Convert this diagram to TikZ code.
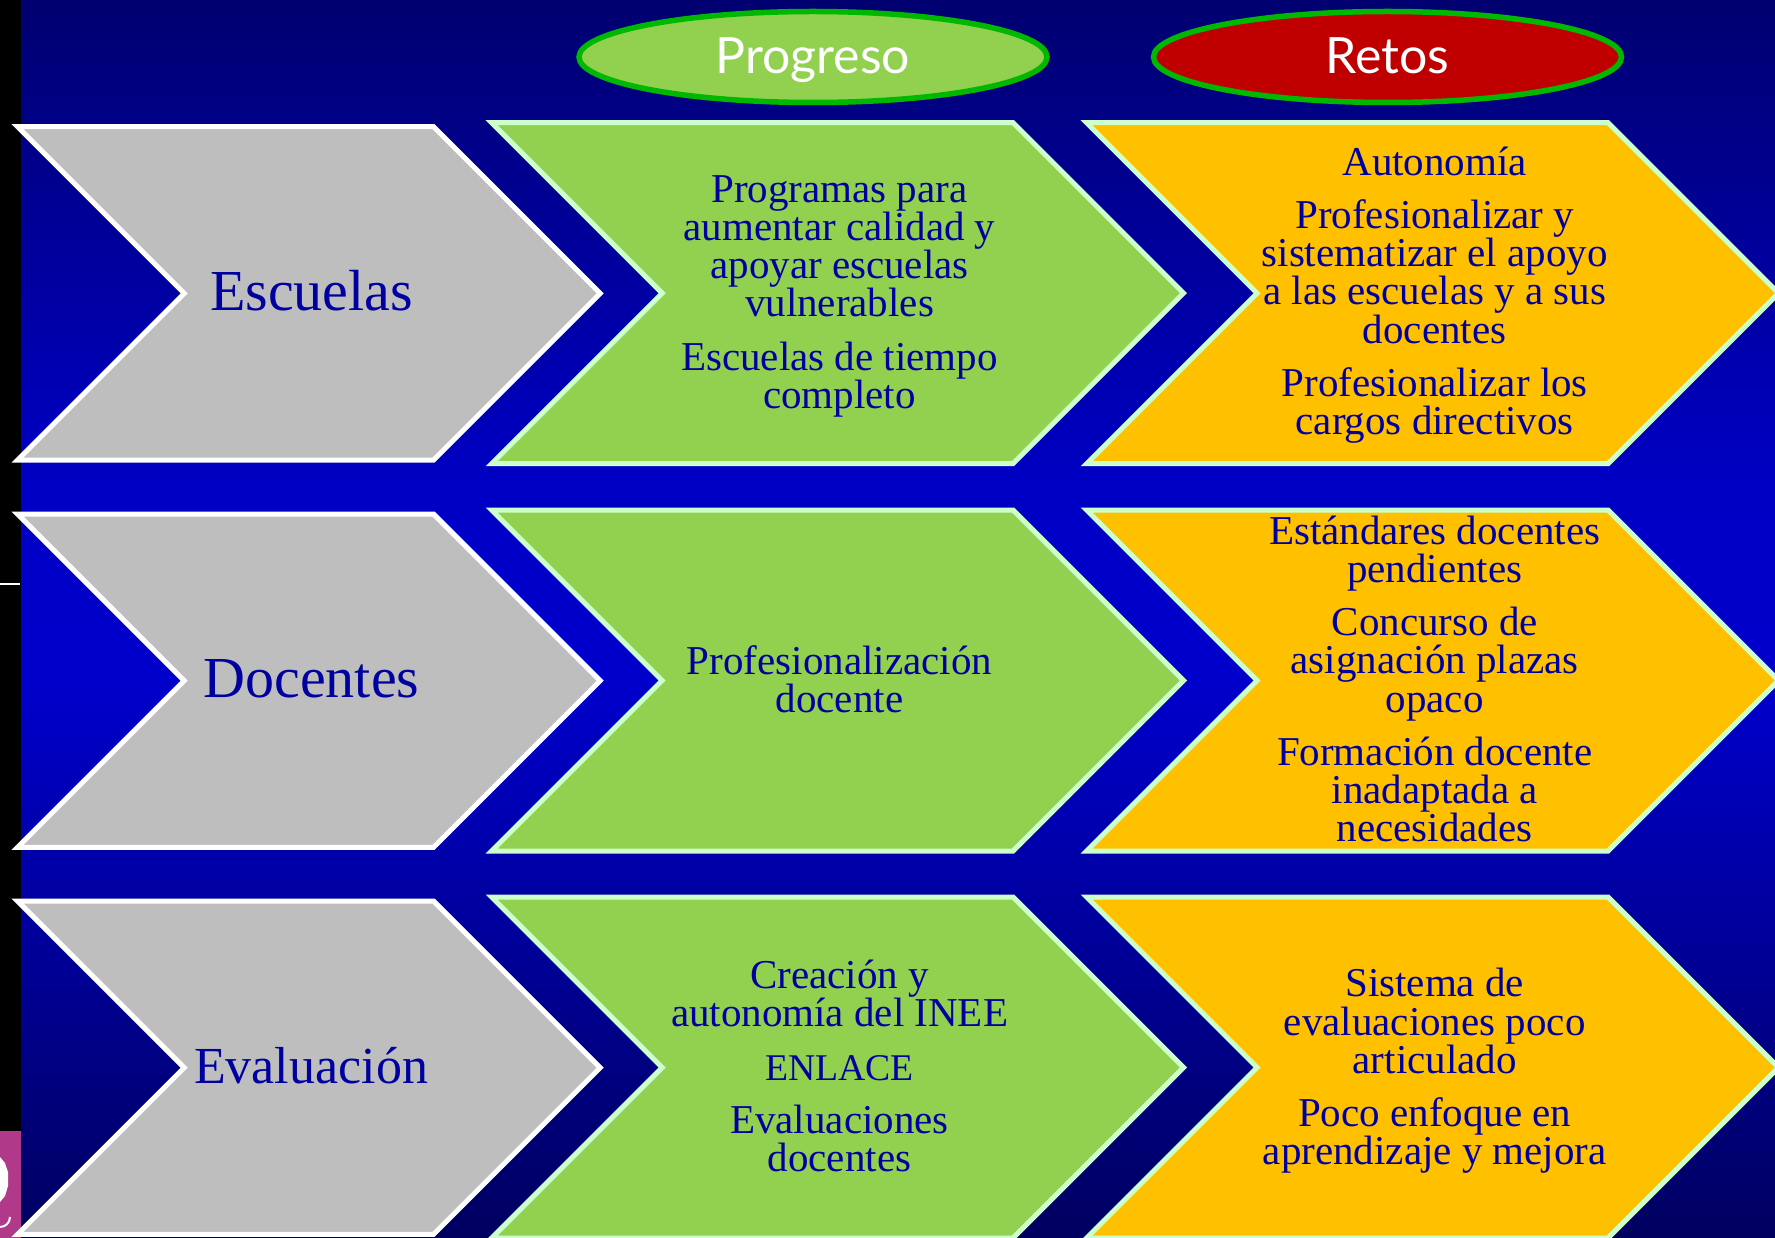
\documentclass[tikz,border=0pt]{standalone}
\usepackage{fontspec}
\usetikzlibrary{shapes.geometric}
\setmainfont{Liberation Serif}
\newfontfamily\headfont{Lato}
\definecolor{txtblue}{HTML}{0000A0}
\definecolor{grayfill}{HTML}{BEBEBE}
\definecolor{greenfill}{HTML}{92D050}
\definecolor{orangefill}{HTML}{FFC000}
\definecolor{edgepale}{HTML}{CCFFCC}
\definecolor{ringgreen}{HTML}{00B800}
\definecolor{redfill}{HTML}{C00000}
\definecolor{magentabar}{HTML}{B0398A}
\pgfdeclareverticalshading{bgshade}{100bp}{%
  rgb(0bp)=(0,0,0.376);%
  rgb(25bp)=(0,0,0.376);%
  rgb(47.5bp)=(0,0,0.8);%
  rgb(55.5bp)=(0,0,0.769);%
  rgb(75bp)=(0,0,0.439);%
  rgb(100bp)=(0,0,0.439)}
\tikzset{
  chevgray/.style={draw=white,fill=grayfill,line width=5pt,miter limit=10},
  chevgreen/.style={draw=edgepale,fill=greenfill,line width=5pt,miter limit=10},
  chevorange/.style={draw=edgepale,fill=orangefill,line width=5pt,miter limit=10},
  rowlabel/.style={text=txtblue,font=\fontsize{58}{60}\selectfont,inner sep=0pt},
  body/.style={text=txtblue,font=\fontsize{41}{38.2}\selectfont,align=center,inner sep=0pt},
  ovalhead/.style={ellipse,draw=ringgreen,line width=5.5pt,minimum width=468pt,minimum height=91pt,inner sep=0pt,text=white,text height=33pt,text depth=0pt,font=\headfont\fontsize{50}{52}\selectfont},
}
% #1 style, #2 left x of centreline, #3 top y, #4 half height, #5 body length
\newcommand{\chevshape}[5]{%
  \draw[#1] (#2,#3) -- ++(#5,0) -- ++(#4,#4) -- ++(-#4,#4) -- ++(-#5,0) -- ++(#4,-#4) -- cycle;
}
\newcommand{\capsmall}[1]{{\fontsize{37.7}{38.2}\selectfont #1}}
\begin{document}
\begin{tikzpicture}[x=1pt,y=-1pt]
\useasboundingbox (0,0) rectangle (1775,1238);
\clip (0,0) rectangle (1775,1238);
\shade[shading=bgshade] (0,0) rectangle (1775,1238);
\fill[black] (0,0) rectangle (21,1238);
\fill[magentabar] (0,1131) rectangle (21,1238);
\fill[white] (0,1157) -- (5,1163) -- (8,1172) -- (8,1186) -- (5,1196) -- (0,1202) -- cycle;
\draw[white,line width=2pt] (0,1227) arc[start angle=90,end angle=0,radius=10];
\draw[white,line width=2.5pt] (0,584) -- (20,584);

\foreach \ytop/\hh in {126.7/166.7,514/166.7,901/166.7}{
  \chevshape{chevgray}{17.5}{\ytop}{\hh}{416}
}
\foreach \ytop/\hh in {122.7/170.5,510/170.5,897/170.5}{
  \chevshape{chevgreen}{491.7}{\ytop}{\hh}{521.3}
  \chevshape{chevorange}{1086.6}{\ytop}{\hh}{521.4}
}

\node[ovalhead,fill=greenfill] (progreso) at (813,57) {Progreso};
\node[ovalhead,fill=redfill] (retos) at (1387.5,57) {Retos};

\node[rowlabel] (escuelas) at (311.5,291) {Escuelas};
\node[rowlabel] (docentes) at (311.5,679) {Docentes};
\node[rowlabel,font=\fontsize{52}{60}\selectfont] (evaluacion) at (311,1066) {Evaluación};

\node[body] (g1) at (839.5,296.3) {Programas para\\aumentar calidad y\\apoyar escuelas\\vulnerables\\[15pt]Escuelas de tiempo\\completo};
\node[body] (g2) at (839.5,679) {Profesionalización\\docente};
\node[body] (g3) at (839.5,1066) {Creación y\\autonomía del INEE\\[15pt]\capsmall{ENLACE}\\[15pt]Evaluaciones\\docentes};

\node[body] (o1) at (1434.7,295) {Autonomía\\[15pt]Profesionalizar y\\sistematizar el apoyo\\a las escuelas y a sus\\docentes\\[15pt]Profesionalizar los\\cargos directivos};
\node[body] (o2) at (1434.7,679) {Estándares docentes\\pendientes\\[15pt]Concurso de\\asignación plazas\\opaco\\[15pt]Formación docente\\inadaptada a\\necesidades};
\node[body] (o3) at (1434.7,1071) {Sistema de\\evaluaciones poco\\articulado\\[15pt]Poco enfoque en\\aprendizaje y mejora};
\end{tikzpicture}
\end{document}
